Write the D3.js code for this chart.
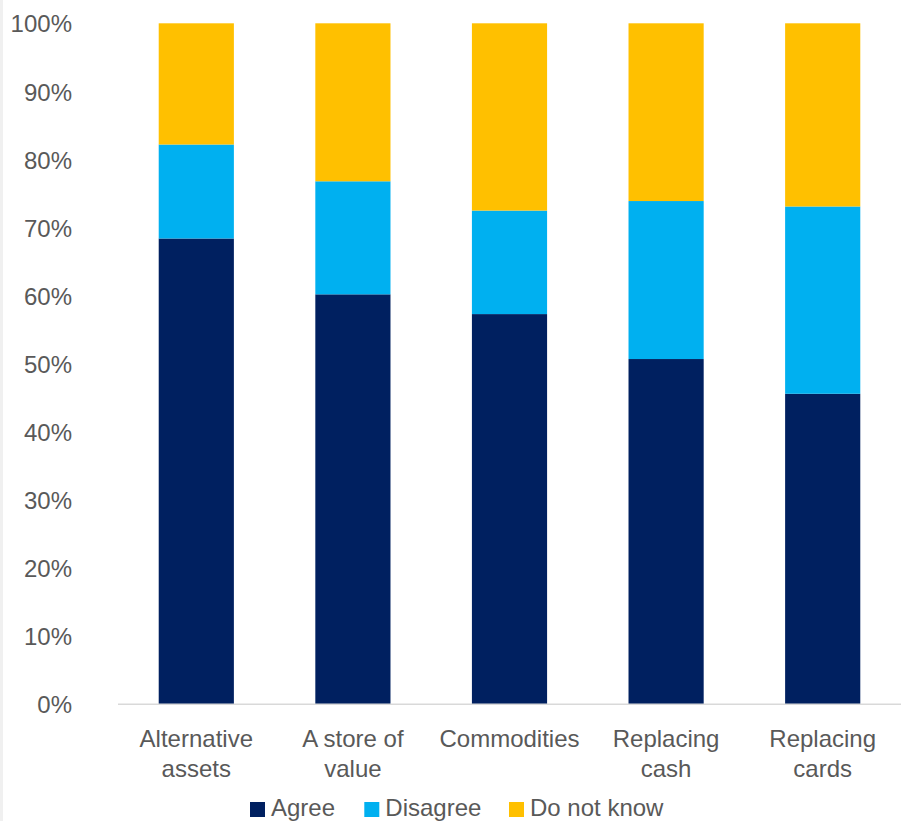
<!DOCTYPE html>
<html>
<head>
<meta charset="utf-8">
<script src="https://cdn.jsdelivr.net/npm/d3@7"></script>
<style>
  html, body { margin: 0; padding: 0; background: #fff; }
  svg { display: block; }
  text { font-family: "Liberation Sans", Arial, sans-serif; fill: #595959; }
</style>
</head>
<body>
<svg id="chart" width="901" height="821"></svg>
<script>
// Survey responses by use case (share of respondents, %)
const categories = [["Alternative", "assets"], ["A store of", "value"], ["Commodities"], ["Replacing", "cash"], ["Replacing", "cards"]];
const seriesNames = ["Agree", "Disagree", "Do not know"];
const agree     = [68.4, 60.2, 57.3, 50.7, 45.6];
const disagree  = [13.8, 16.6, 15.2, 23.2, 27.5];
const doNotKnow = [17.8, 23.2, 27.5, 26.1, 26.9];
const yTicks = [0, 10, 20, 30, 40, 50, 60, 70, 80, 90, 100];
const colors = ["#002060", "#00B0F0", "#FFC000"];

const svg = d3.select("#chart");
const W = 901, H = 821;
const margin = { top: 23.3, right: 0, bottom: 116.7, left: 118 };

// thin frame strip on the left edge
svg.append("rect").attr("x", 0).attr("y", 0).attr("width", 3).attr("height", H).attr("fill", "#f0f0f0");

const keys = categories.map(c => c.join(" "));
const rows = keys.map((k, i) => ({ key: k, Agree: agree[i], Disagree: disagree[i], "Do not know": doNotKnow[i] }));
const stacked = d3.stack().keys(seriesNames)(rows);

const x = d3.scaleBand().domain(keys).range([margin.left, W - margin.right]).paddingInner(0.52).paddingOuter(0.26);
const y = d3.scaleLinear().domain([0, 100]).range([H - margin.bottom, margin.top]);

// stacked bars
svg.append("g").selectAll("g").data(stacked).join("g")
  .attr("fill", (d, i) => colors[i])
  .selectAll("rect").data(d => d).join("rect")
  .attr("x", d => x(d.data.key))
  .attr("width", x.bandwidth())
  .attr("y", d => y(d[1]))
  .attr("height", d => y(d[0]) - y(d[1]));

// baseline
svg.append("line")
  .attr("x1", margin.left).attr("x2", W)
  .attr("y1", y(0)).attr("y2", y(0))
  .attr("stroke", "#d9d9d9").attr("stroke-width", 1.5);

// y axis labels
const yAxis = d3.axisLeft(y).tickValues(yTicks).tickFormat(d => d + "%").tickSize(0).tickPadding(0);
const gy = svg.append("g").attr("transform", "translate(72,0)").call(yAxis);
gy.select(".domain").remove();
gy.selectAll("text").attr("font-size", 24).attr("fill", "#595959")
  .attr("font-family", "'Liberation Sans', Arial, sans-serif").attr("dy", "0.36em");

// category labels (two lines)
const gx = svg.append("g");
categories.forEach((lines, i) => {
  const t = gx.append("text")
    .attr("x", x(keys[i]) + x.bandwidth() / 2)
    .attr("y", 746.7)
    .attr("text-anchor", "middle")
    .attr("font-size", 24);
  lines.forEach((ln, j) => t.append("tspan").attr("x", x(keys[i]) + x.bandwidth() / 2).attr("dy", j === 0 ? 0 : 30).text(ln));
});

// legend
const legendX = [250, 364.3, 509];
const lg = svg.append("g");
seriesNames.forEach((name, i) => {
  lg.append("rect").attr("x", legendX[i]).attr("y", 802).attr("width", 15).attr("height", 15).attr("fill", colors[i]);
  lg.append("text").attr("x", legendX[i] + 21).attr("y", 815.5).attr("font-size", 24).text(name);
});
</script>
</body>
</html>
